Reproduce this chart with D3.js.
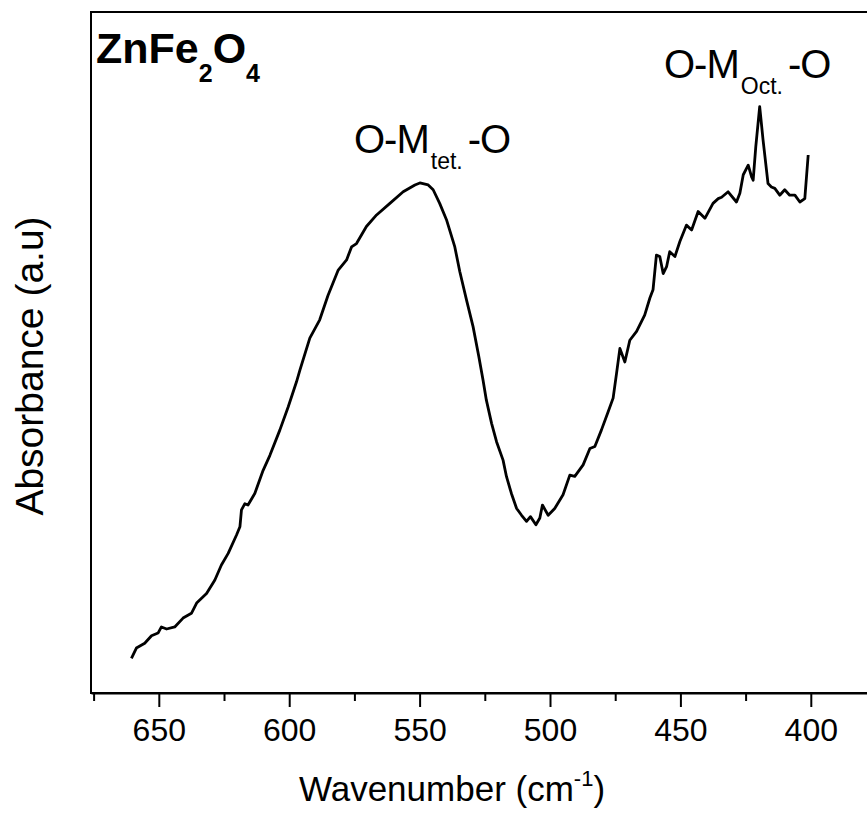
<!DOCTYPE HTML>
<html>
<head>
<meta charset="utf-8">
<script src="https://d3js.org/d3.v7.min.js"></script>
<style>
body { margin: 0; background: white; }
text { font-family: "Liberation Sans", Arial, Helvetica, sans-serif; fill: black; }
</style>
</head>
<body>
<svg id="svgMain" width="867" height="819"></svg>

<script>
// FTIR spectrum of ZnFe2O4 (wavenumber high -> low)
var wavenumber = [660.5, 658.6, 655.4, 652.8, 650.3, 649.0, 647.0, 643.9, 640.7, 637.5,
                  635.5, 631.7, 628.5, 626.0, 623.4, 620.2, 618.9, 618.3, 617.0, 615.8,
                  613.2, 610.0, 607.4, 603.6, 600.4, 597.2, 595.9, 592.1, 588.3, 585.1,
                  581.2, 578.0, 576.1, 574.2, 570.4, 566.5, 561.4, 556.3, 551.8, 549.9,
                  546.7, 544.8, 542.3, 539.7, 536.5, 534.6, 532.0, 529.5, 527.3, 525.7,
                  524.4, 522.4, 520.5, 518.0, 516.7, 514.8, 512.8, 510.9, 509.0, 507.5,
                  505.4, 503.9, 502.9, 500.7, 498.2, 495.0, 492.4, 490.5, 487.3, 484.7,
                  482.8, 480.3, 477.7, 475.8, 474.5, 473.2, 471.3, 469.4, 466.8, 463.7,
                  461.7, 460.5, 459.2, 457.9, 456.6, 455.3, 454.1, 452.1, 450.2, 447.7,
                  445.7, 443.2, 440.6, 437.5, 435.5, 434.2, 431.7, 428.5, 427.2, 425.9,
                  424.0, 422.7, 422.1, 421.1, 419.6, 418.3, 416.4, 415.1, 413.8, 411.9,
                  410.0, 408.1, 406.1, 404.2, 402.3, 401.0];
var absorbance = [5.1, 6.6, 7.3, 8.4, 8.8, 9.7, 9.4, 9.7, 11.0, 11.7,
                  13.2, 14.6, 16.6, 18.8, 20.5, 23.2, 24.4, 26.9, 27.8, 27.6,
                  29.3, 32.7, 34.9, 38.6, 42.0, 45.7, 47.4, 52.1, 54.8, 58.4,
                  62.1, 63.6, 65.5, 66.0, 68.5, 70.2, 71.9, 73.6, 74.6, 74.9,
                  74.6, 73.9, 71.9, 69.5, 65.5, 61.9, 57.7, 53.8, 49.4, 46.0,
                  43.0, 39.6, 36.9, 34.2, 31.8, 29.3, 27.1, 26.1, 25.2, 25.9,
                  24.7, 25.7, 27.6, 26.1, 27.1, 29.1, 32.0, 31.8, 33.5, 35.9,
                  36.2, 38.6, 41.3, 43.3, 46.9, 50.6, 48.6, 51.8, 53.1, 55.5,
                  58.0, 59.2, 64.3, 64.1, 61.6, 62.6, 64.8, 64.1, 66.3, 68.7,
                  68.0, 70.7, 69.7, 71.9, 72.6, 72.8, 73.6, 72.1, 73.4, 76.1,
                  77.5, 75.8, 75.3, 80.2, 86.1, 81.2, 74.8, 74.3, 74.1, 73.1,
                  73.9, 73.1, 73.1, 72.1, 72.6, 79.0];

var majorTicks = [650, 600, 550, 500, 450, 400];
var minorTicks = [675, 625, 575, 525, 475, 425];

var svg = d3.select('#svgMain');

var xs = d3.scaleLinear().domain([676, 375]).range([91, 876]);
var ys = d3.scaleLinear().domain([0, 100]).range([693, 12]);

var spectrum = wavenumber.map(function (w, i) { return [w, absorbance[i]]; });

// plot frame (right edge runs off the picture)
svg.append('rect')
   .attr('x', 91)
   .attr('y', 12)
   .attr('width', 785)
   .attr('height', 681)
   .attr('fill', 'none')
   .attr('stroke', 'black')
   .attr('stroke-width', 2);

// minor ticks
svg.append('g')
   .attr('transform', 'translate(0,693)')
   .call(d3.axisBottom(xs).tickValues(minorTicks).tickSize(8).tickSizeOuter(0).tickFormat(''))
   .call(function (g) { g.select('.domain').remove(); })
   .selectAll('line').attr('stroke-width', 2);

// major ticks + labels
var xAxis = d3.axisBottom(xs)
              .tickValues(majorTicks)
              .tickSize(14)
              .tickPadding(11)
              .tickSizeOuter(0);
var gx = svg.append('g')
   .attr('transform', 'translate(0,693)')
   .call(xAxis);
gx.select('.domain').attr('stroke-width', 2);
gx.selectAll('line').attr('stroke-width', 2);
gx.selectAll('text')
   .attr('font-size', 32)
   .attr('font-family', '"Liberation Sans", Arial, sans-serif')
   .attr('fill', 'black');

// the spectrum
svg.append('path')
   .datum(spectrum)
   .attr('fill', 'none')
   .attr('stroke', 'black')
   .attr('stroke-width', 2.8)
   .attr('stroke-linejoin', 'round')
   .attr('d', d3.line()
       .x(function (d) { return xs(d[0]); })
       .y(function (d) { return ys(d[1]); }));

// axis titles
var xt = svg.append('text')
   .attr('x', 452)
   .attr('y', 801)
   .attr('text-anchor', 'middle')
   .attr('font-size', 35);
xt.append('tspan').text('Wavenumber (cm');
xt.append('tspan').attr('font-size', 22).attr('dy', -15).text('-1');
xt.append('tspan').attr('dy', 15).text(')');

svg.append('text')
   .attr('transform', 'translate(43,366) rotate(-90)')
   .attr('text-anchor', 'middle')
   .attr('font-size', 39)
   .text('Absorbance (a.u)');

// sample name
var title = svg.append('text')
   .attr('x', 96)
   .attr('y', 63)
   .attr('font-size', 43)
   .attr('font-weight', 'bold');
title.append('tspan').text('ZnFe');
title.append('tspan').attr('font-size', 25).attr('dy', 19).text('2');
title.append('tspan').attr('dy', -19).text('O');
title.append('tspan').attr('font-size', 25).attr('dy', 19).text('4');

// band labels
function bandLabel(x, y, sub) {
   var t = svg.append('text')
      .attr('x', x)
      .attr('y', y)
      .attr('font-size', 40)
      .attr('letter-spacing', -1);
   t.append('tspan').text('O-M');
   t.append('tspan').attr('font-size', 23).attr('dy', 16).attr('dx', 2).attr('letter-spacing', 0).text(sub);
   t.append('tspan').attr('dy', -16).attr('dx', 5).text('-O');
}
bandLabel(354, 153, 'tet.');
bandLabel(664, 78, 'Oct.');
</script>
</body>
</html>
